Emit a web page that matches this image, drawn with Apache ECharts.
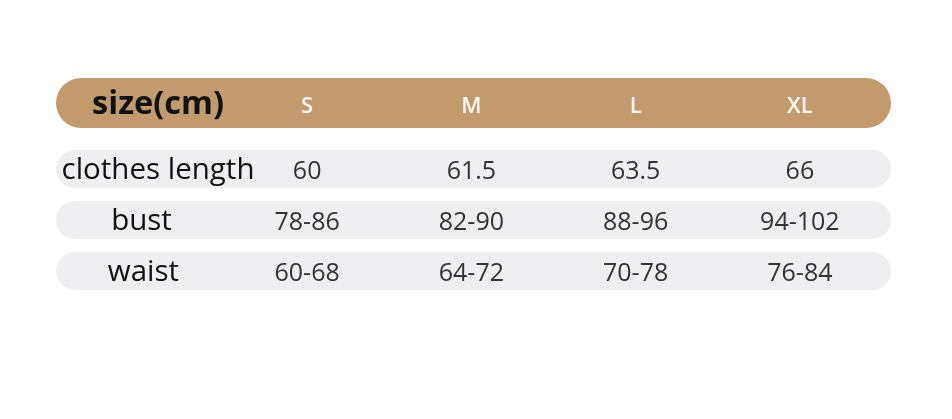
<!DOCTYPE html>
<html><head><meta charset="utf-8">
<script src="https://cdn.jsdelivr.net/npm/echarts@6/dist/echarts.min.js"></script>
<style>html,body{margin:0;padding:0;background:#fff}#c{width:952px;height:419px}</style>
</head><body><div id="c"></div>
<script>
// ---- data ----
const headerLabel = 'size(cm)';
const sizes = ['S', 'M', 'L', 'XL'];
const rowNames = ['clothes length', 'bust', 'waist'];
const clothesLength = ['60', '61.5', '63.5', '66'];
const bust = ['78-86', '82-90', '88-96', '94-102'];
const waist = ['60-68', '64-72', '70-78', '76-84'];

// ---- build ----
const rows = [clothesLength, bust, waist];
const cellData = [];
rows.forEach((r, i) => r.forEach((v, j) => cellData.push([j, i, v])));

const FONT = '"Open Sans", "Noto Sans", sans-serif';
const chart = echarts.init(document.getElementById('c'), null, { renderer: 'canvas' });

const labelRich = {
  r0: { fontSize: 29.5, fontFamily: FONT, color: '#111', padding: [3, 0, 0, 0] },
  r1: { fontSize: 29.5, fontFamily: FONT, color: '#111', padding: [3, 33, 0, 0] },
  r2: { fontSize: 29.5, fontFamily: FONT, color: '#111', padding: [3, 29, 0, 0] }
};

const option = {
  animation: false,
  backgroundColor: '#ffffff',
  grid: { left: 225, right: 70, top: 143.5, bottom: 122.5 },
  xAxis: {
    type: 'category', data: sizes, position: 'top', z: 10,
    axisLine: { show: false }, axisTick: { show: false }, splitLine: { show: false },
    axisLabel: { color: '#fdf9f4', fontSize: 22, fontWeight: 600, fontFamily: FONT, margin: 36.5, verticalAlign: 'middle' }
  },
  yAxis: {
    type: 'category', data: rowNames, inverse: true, z: 10,
    axisLine: { show: false }, axisTick: { show: false }, splitLine: { show: false },
    axisLabel: {
      margin: 67, align: 'center', verticalAlign: 'middle',
      fontSize: 29.5, fontFamily: FONT, color: '#111',
      formatter: (v, i) => '{r' + i + '|' + v + '}',
      rich: labelRich
    }
  },
  series: [
    {
      type: 'custom', z: 1, silent: true,
      data: rowNames.map((n, i) => [0, i]),
      renderItem: (params, api) => {
        const c = api.coord([0, api.value(1)]);
        const children = [{
          type: 'rect',
          shape: { x: 56, y: c[1] - 19, width: 835, height: 38, r: 19 },
          style: { fill: '#EFEEF1' }
        }];
        if (params.dataIndex === 0) {
          const hy = c[1] - 66;
          children.push({
            type: 'rect',
            shape: { x: 56, y: hy - 25, width: 835, height: 50, r: 25 },
            style: { fill: '#C19B6D' }
          });
          children.push({
            type: 'text', x: 158, y: hy + 2,
            style: { text: headerLabel, fill: '#111', fontSize: 32.5, fontWeight: 'bold', fontFamily: FONT, align: 'center', verticalAlign: 'middle' }
          });
        }
        return { type: 'group', children };
      }
    },
    {
      type: 'custom', z: 3, silent: true,
      data: cellData,
      renderItem: (params, api) => {
        const c = api.coord([api.value(0), api.value(1)]);
        return {
          type: 'text', x: c[0], y: c[1] + 3,
          style: { text: cellData[params.dataIndex][2], fill: '#333', fontSize: 25, fontFamily: FONT, align: 'center', verticalAlign: 'middle' }
        };
      }
    }
  ]
};
chart.setOption(option);
</script>
</body></html>
